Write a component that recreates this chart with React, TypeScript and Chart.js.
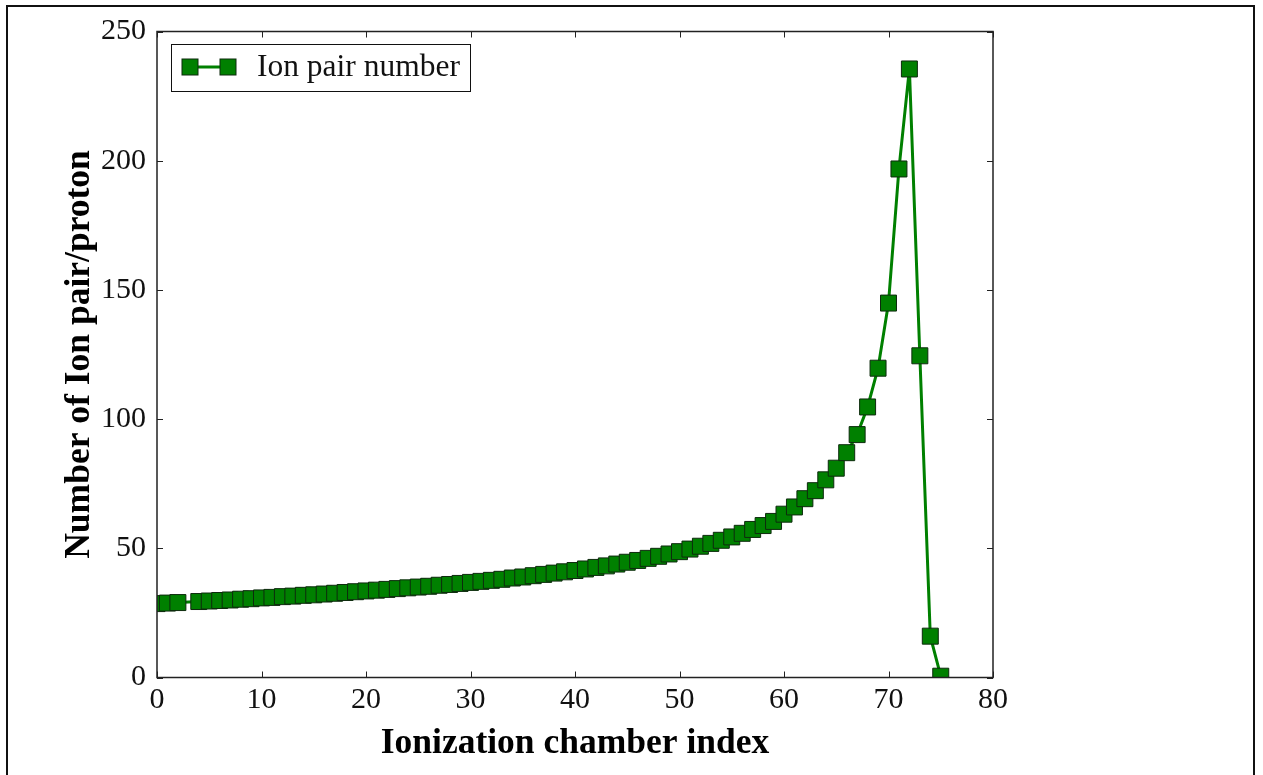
import { useEffect, useRef } from "react";
import { Chart, registerables } from "chart.js";

Chart.register(...registerables);

// ---- data ----
const chamberIndex = [
  0, 1, 2, 4, 5, 6, 7, 8, 9, 10, 11, 12, 13, 14, 15, 16, 17, 18, 19, 20,
  21, 22, 23, 24, 25, 26, 27, 28, 29, 30, 31, 32, 33, 34, 35, 36, 37, 38, 39, 40,
  41, 42, 43, 44, 45, 46, 47, 48, 49, 50, 51, 52, 53, 54, 55, 56, 57, 58, 59, 60,
  61, 62, 63, 64, 65, 66, 67, 68, 69, 70, 71, 72, 73, 74, 75,
];
const ionPairs = [
  28.6, 28.8, 29.0, 29.4, 29.6, 29.8, 30.0, 30.3, 30.5, 30.8, 31.0, 31.3, 31.5, 31.8, 32.0, 32.3, 32.6, 32.9, 33.2, 33.5,
  33.8, 34.1, 34.4, 34.7, 35.0, 35.3, 35.7, 36.0, 36.4, 36.8, 37.2, 37.6, 38.0, 38.5, 38.9, 39.4, 39.9, 40.4, 40.9, 41.4,
  42.0, 42.6, 43.2, 43.9, 44.6, 45.3, 46.1, 46.9, 47.8, 48.7, 49.7, 50.8, 51.9, 53.1, 54.4, 55.8, 57.3, 58.8, 60.4, 63.2,
  66.0, 69.2, 72.3, 76.5, 81.0, 87.0, 94.0, 104.7, 119.7, 144.9, 196.8, 235.5, 124.5, 16.0, 0.5,
];
const xTicks = [0, 10, 20, 30, 40, 50, 60, 70, 80];
const yTicks = [0, 50, 100, 150, 200, 250];
const seriesLabel = "Ion pair number";
const xTitle = "Ionization chamber index";
const yTitle = "Number of Ion pair/proton";

const GREEN = "#008000";
const EDGE = "#0d2a0d";
const FONT = "'Liberation Serif', 'Times New Roman', serif";

const decorPlugin = {
  id: "decor",
  beforeDraw(chart: any) {
    const ctx = chart.ctx;
    ctx.save();
    ctx.fillStyle = "#ffffff";
    ctx.fillRect(0, 0, chart.width, chart.height);
    ctx.strokeStyle = "#111111";
    ctx.lineWidth = 2;
    ctx.strokeRect(7, 6, 1247, 820);
    ctx.restore();
  },
  afterDraw(chart: any) {
    const ctx = chart.ctx;
    const { left, right, top, bottom } = chart.chartArea;
    const xs = chart.scales.x;
    const ys = chart.scales.y;
    ctx.save();
    // frame
    ctx.strokeStyle = "#222222";
    ctx.lineWidth = 1.5;
    ctx.strokeRect(left, top, right - left, bottom - top);
    // inward ticks on all four sides
    ctx.lineWidth = 1;
    const tl = 6;
    ctx.beginPath();
    xTicks.forEach((v) => {
      const px = Math.round(xs.getPixelForValue(v)) + 0.5;
      ctx.moveTo(px, bottom);
      ctx.lineTo(px, bottom - tl);
      ctx.moveTo(px, top);
      ctx.lineTo(px, top + tl);
    });
    yTicks.forEach((v) => {
      const py = Math.round(ys.getPixelForValue(v)) + 0.5;
      ctx.moveTo(left, py);
      ctx.lineTo(left + tl, py);
      ctx.moveTo(right, py);
      ctx.lineTo(right - tl, py);
    });
    ctx.stroke();

    // legend
    const ds = chart.data.datasets[0];
    const bx = 171.5, by = 44.5, bw = 299, bh = 47;
    ctx.fillStyle = "#ffffff";
    ctx.fillRect(bx, by, bw, bh);
    ctx.strokeStyle = "#111111";
    ctx.lineWidth = 1;
    ctx.strokeRect(bx, by, bw, bh);
    const cy = 67;
    const m1 = 190, m2 = 228;
    ctx.strokeStyle = GREEN;
    ctx.lineWidth = 3;
    ctx.beginPath();
    ctx.moveTo(m1, cy);
    ctx.lineTo(m2, cy);
    ctx.stroke();
    const s = 16;
    [m1, m2].forEach((mx) => {
      ctx.fillStyle = GREEN;
      ctx.fillRect(mx - s / 2, cy - s / 2, s, s);
      ctx.strokeStyle = EDGE;
      ctx.lineWidth = 1;
      ctx.strokeRect(mx - s / 2, cy - s / 2, s, s);
    });
    ctx.fillStyle = "#111111";
    ctx.font = `31.5px ${FONT}`;
    ctx.textAlign = "left";
    ctx.textBaseline = "alphabetic";
    ctx.fillText(ds.label, 257, 76);
    ctx.restore();
  },
};

export default function App() {
  const ref = useRef<HTMLCanvasElement>(null);
  useEffect(() => {
    document.body.style.margin = "0";
    const canvas = ref.current!;
    const points = chamberIndex.map((x, i) => ({ x, y: ionPairs[i] }));
    const chart = new Chart(canvas, {
      type: "line",
      data: {
        datasets: [
          {
            label: seriesLabel,
            data: points,
            borderColor: GREEN,
            borderWidth: 3,
            tension: 0,
            pointStyle: "rect",
            pointRadius: 11.3,
            pointHoverRadius: 11.3,
            pointBackgroundColor: GREEN,
            pointBorderColor: EDGE,
            pointBorderWidth: 1,
            fill: false,
          },
        ],
      },
      options: {
        animation: false,
        responsive: false,
        devicePixelRatio: 1,
        events: [],
        layout: { padding: { left: 0, top: 31.5, right: 270, bottom: 0 } },
        plugins: {
          legend: { display: false },
          tooltip: { enabled: false },
        },
        scales: {
          x: {
            type: "linear",
            min: 0,
            max: 80,
            afterBuildTicks: (scale: any) => {
              scale.ticks = xTicks.map((v) => ({ value: v }));
            },
            afterFit: (scale: any) => {
              scale.height = 97.5;
            },
            grid: { display: false, drawTicks: false },
            border: { display: false },
            ticks: {
              padding: 5,
              color: "#111111",
              font: { family: FONT, size: 30 },
              maxRotation: 0,
            },
            title: {
              display: true,
              text: xTitle,
              color: "#000000",
              font: { family: FONT, size: 35.5, weight: "bold" },
              padding: { top: 0, bottom: 10 },
            },
          },
          y: {
            type: "linear",
            min: 0,
            max: 250,
            afterBuildTicks: (scale: any) => {
              scale.ticks = yTicks.map((v) => ({ value: v }));
            },
            afterFit: (scale: any) => {
              scale.width = 157;
            },
            grid: { display: false, drawTicks: false },
            border: { display: false },
            ticks: {
              padding: 11,
              color: "#111111",
              font: { family: FONT, size: 30 },
            },
            title: {
              display: true,
              text: yTitle,
              color: "#000000",
              font: { family: FONT, size: 35.5, weight: "bold" },
              padding: { top: 59, bottom: 0 },
            },
          },
        },
      },
      plugins: [decorPlugin],
    } as any);
    return () => chart.destroy();
  }, []);
  return (
    <div style={{ width: 1263, height: 775 }}>
      <canvas ref={ref} width={1263} height={775} style={{ display: "block" }} />
    </div>
  );
}
